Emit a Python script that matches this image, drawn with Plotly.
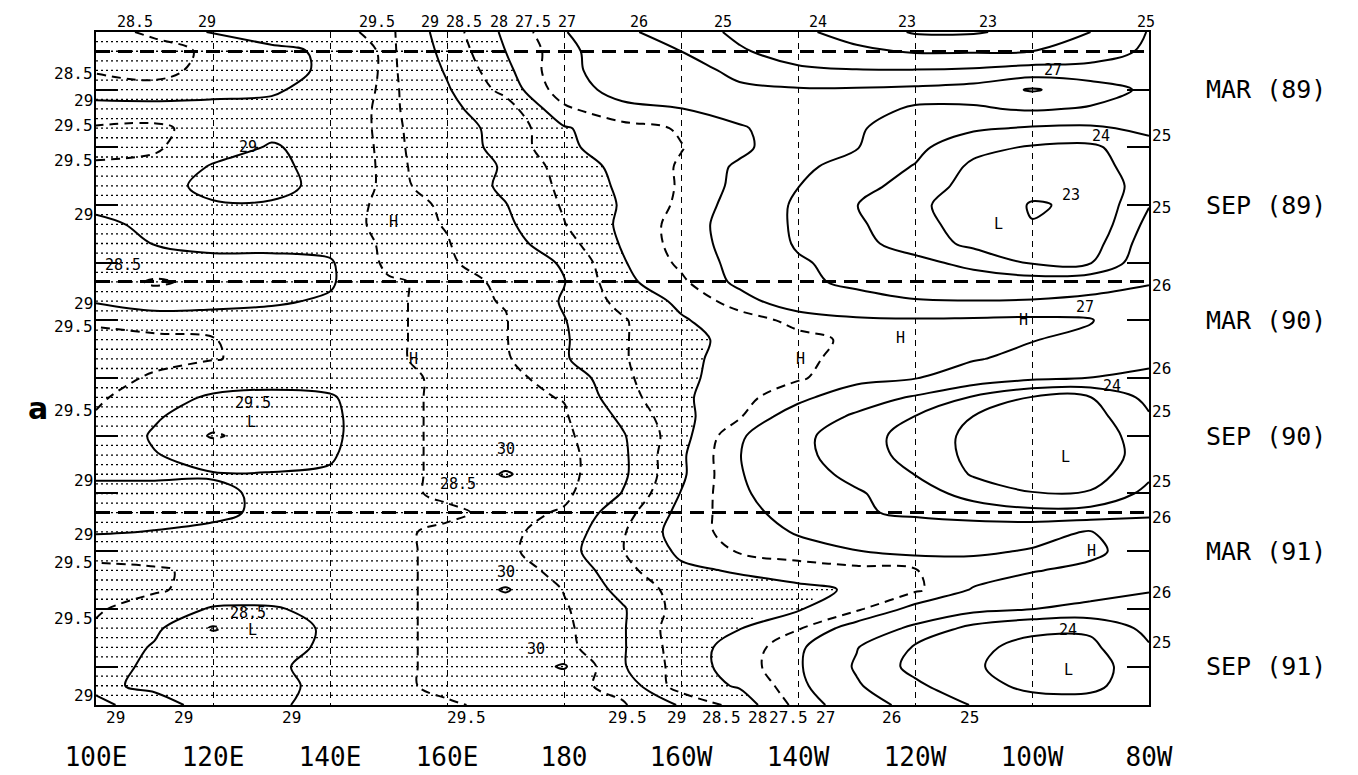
import numpy as np
import plotly.graph_objects as go

# ---------------- data ----------------
lons = [100, 110, 120, 130, 140, 150, 160, 170, 180, 190, 200, 210, 220, 230, 240, 250, 260, 270, 280]
lon_ticks = [100, 120, 140, 160, 180, 200, 220, 240, 260, 280]
lon_labels = ["100E", "120E", "140E", "160E", "180", "160W", "140W", "120W", "100W", "80W"]
# months counted from Jan 1989 = 0 (Dec 1988 .. Nov 1991)
months = list(range(-1, 35))
year_lines = [0, 12, 24]
month_ticks = list(range(2, 33, 3))
season_ticks = [2, 8, 14, 20, 26, 32]
season_labels = ["MAR (89)", "SEP (89)", "MAR (90)", "SEP (90)", "MAR (91)", "SEP (91)"]

# SST (deg C), rows = months, columns = lons
sst_1989 = [
    [28.30, 28.60, 29.05, 29.30, 29.40, 29.60, 28.75, 27.90, 27.05, 26.20, 25.50, 24.80, 24.20, 23.60, 22.90, 22.90, 23.30, 24.00, 25.05],
    [28.35, 28.30, 28.60, 28.85, 29.10, 29.60, 28.85, 28.00, 27.20, 26.50, 26.00, 25.10, 24.60, 24.20, 23.90, 23.90, 24.00, 24.40, 25.20],
    [28.45, 28.30, 28.70, 28.90, 29.05, 29.60, 28.95, 28.15, 27.10, 26.80, 26.50, 25.70, 25.15, 25.05, 25.05, 25.15, 25.40, 25.40, 25.40],
    [28.75, 28.70, 28.90, 28.95, 29.15, 29.60, 29.05, 28.35, 27.20, 26.85, 26.60, 26.20, 26.10, 26.10, 26.20, 26.40, 27.10, 26.50, 25.80],
    [29.20, 29.20, 29.10, 29.10, 29.25, 29.60, 29.10, 28.75, 27.60, 27.10, 27.02, 26.60, 26.35, 26.15, 25.95, 25.90, 26.10, 25.90, 25.70],
    [29.55, 29.60, 29.30, 29.15, 29.25, 29.60, 29.20, 28.85, 28.05, 27.70, 27.45, 27.10, 26.50, 26.10, 25.55, 25.15, 24.90, 24.85, 25.20],
    [29.60, 29.55, 29.25, 28.95, 29.20, 29.60, 29.25, 28.85, 28.10, 27.75, 27.52, 27.15, 26.55, 26.05, 25.25, 24.30, 23.90, 23.80, 24.70],
    [29.45, 29.40, 28.95, 28.90, 29.15, 29.60, 29.30, 28.95, 28.30, 27.85, 27.45, 26.90, 26.25, 25.55, 24.95, 23.80, 23.50, 23.55, 24.60],
    [29.30, 29.20, 28.85, 28.85, 29.15, 29.60, 29.35, 28.90, 28.40, 27.90, 27.45, 26.85, 26.02, 25.35, 24.60, 23.60, 23.20, 23.30, 24.50],
    [29.10, 29.10, 29.05, 29.05, 29.20, 29.65, 29.45, 29.02, 28.45, 27.95, 27.40, 26.75, 25.85, 25.02, 24.20, 23.50, 22.95, 23.10, 24.95],
    [28.90, 29.10, 29.15, 29.15, 29.25, 29.65, 29.48, 29.10, 28.52, 27.90, 27.30, 26.70, 25.85, 25.15, 24.35, 23.55, 23.02, 23.20, 25.30],
    [28.70, 29.02, 29.10, 29.10, 29.15, 29.60, 29.52, 29.20, 28.70, 27.95, 27.30, 26.75, 25.90, 25.30, 24.55, 23.75, 23.40, 23.52, 25.60],
    [28.60, 28.75, 28.90, 28.90, 28.95, 29.60, 29.55, 29.30, 28.95, 28.05, 27.40, 26.80, 26.10, 25.70, 25.30, 24.70, 23.90, 23.95, 25.80],
]
sst_1990 = [
    [28.75, 28.45, 28.60, 28.85, 28.95, 29.45, 29.60, 29.45, 29.02, 28.15, 27.60, 26.85, 26.15, 25.85, 25.60, 25.52, 25.52, 25.70, 25.95],
    [28.95, 28.70, 28.85, 28.95, 29.05, 29.45, 29.60, 29.48, 28.95, 28.35, 27.90, 27.25, 26.60, 26.25, 26.05, 26.02, 26.05, 26.15, 26.25],
    [29.45, 29.30, 29.20, 29.15, 29.25, 29.45, 29.60, 29.52, 29.02, 28.55, 28.05, 27.75, 27.35, 27.15, 27.10, 27.15, 27.20, 27.05, 26.60],
    [29.60, 29.60, 29.52, 29.35, 29.30, 29.45, 29.60, 29.52, 29.05, 28.55, 28.10, 27.90, 27.65, 27.40, 27.20, 27.10, 27.03, 26.80, 26.50],
    [29.65, 29.60, 29.52, 29.40, 29.35, 29.45, 29.60, 29.55, 29.05, 28.55, 28.10, 27.85, 27.60, 27.35, 27.15, 27.05, 26.80, 26.52, 26.20],
    [29.65, 29.45, 29.20, 29.15, 29.20, 29.35, 29.60, 29.60, 29.35, 28.60, 28.10, 27.80, 27.55, 27.25, 27.03, 26.60, 26.20, 25.98, 25.80],
    [29.60, 29.15, 28.95, 28.90, 28.95, 29.35, 29.60, 29.60, 29.48, 28.70, 28.10, 27.65, 27.20, 26.50, 25.90, 24.90, 23.95, 23.98, 25.30],
    [29.45, 29.05, 28.75, 28.70, 28.90, 29.35, 29.60, 29.65, 29.55, 28.90, 28.15, 27.55, 26.60, 25.85, 24.98, 23.98, 23.60, 23.60, 24.90],
    [29.35, 28.95, 28.45, 28.70, 28.90, 29.35, 29.60, 29.70, 29.60, 29.05, 28.20, 27.10, 26.25, 25.45, 24.60, 23.75, 23.35, 23.35, 24.60],
    [29.20, 29.02, 28.85, 28.85, 28.95, 29.35, 29.60, 29.75, 29.65, 29.10, 28.10, 27.02, 26.25, 25.50, 24.65, 23.75, 23.30, 23.30, 24.50],
    [29.05, 29.05, 29.02, 29.02, 29.05, 29.35, 29.60, 30.05, 29.65, 29.10, 28.10, 27.05, 26.40, 25.75, 24.98, 23.90, 23.45, 23.52, 24.80],
    [28.90, 28.90, 28.95, 29.05, 29.15, 29.35, 29.60, 29.70, 29.60, 28.98, 27.98, 27.10, 26.60, 26.10, 25.52, 24.60, 24.05, 24.10, 25.30],
]
sst_1991 = [
    [28.70, 28.80, 28.90, 29.10, 29.20, 29.40, 29.40, 29.65, 29.45, 28.70, 27.85, 27.20, 26.75, 26.10, 25.85, 25.60, 25.30, 25.40, 25.90],
    [28.95, 29.02, 29.10, 29.20, 29.25, 29.40, 29.60, 29.60, 29.30, 28.55, 27.75, 27.30, 26.95, 26.60, 26.52, 26.55, 26.75, 27.05, 26.30],
    [29.35, 29.30, 29.25, 29.25, 29.30, 29.40, 29.60, 29.60, 29.20, 28.52, 27.90, 27.45, 27.20, 27.02, 26.85, 26.90, 27.05, 27.20, 26.52],
    [29.60, 29.55, 29.40, 29.35, 29.35, 29.40, 29.60, 29.65, 29.40, 28.65, 28.10, 27.95, 27.80, 27.65, 27.52, 27.30, 27.05, 26.80, 26.40],
    [29.60, 29.55, 29.35, 29.30, 29.35, 29.40, 29.60, 30.05, 29.48, 28.85, 28.30, 28.20, 28.10, 27.95, 27.60, 26.95, 26.60, 26.30, 26.05],
    [29.55, 29.30, 28.95, 28.95, 29.15, 29.40, 29.60, 29.70, 29.55, 29.05, 28.30, 28.15, 28.05, 27.60, 26.80, 26.30, 26.02, 25.80, 25.70],
    [29.45, 29.10, 28.45, 28.85, 29.05, 29.40, 29.60, 29.65, 29.60, 29.05, 28.20, 28.02, 27.55, 26.70, 25.80, 24.70, 24.15, 24.15, 25.30],
    [29.35, 28.95, 28.80, 28.90, 29.05, 29.40, 29.60, 29.65, 29.65, 29.05, 28.25, 27.80, 27.15, 26.05, 24.90, 24.15, 23.80, 23.80, 24.90],
    [29.20, 28.90, 28.85, 28.95, 29.10, 29.40, 29.60, 29.70, 30.05, 29.05, 28.30, 27.75, 27.10, 25.90, 24.70, 24.10, 23.60, 23.60, 24.60],
    [29.05, 28.95, 28.90, 28.95, 29.05, 29.40, 29.60, 29.65, 29.65, 29.35, 28.25, 27.95, 27.20, 26.10, 25.20, 24.30, 23.80, 23.80, 24.52],
    [28.95, 29.10, 28.90, 28.95, 29.10, 29.25, 29.45, 29.60, 29.60, 29.55, 28.95, 28.30, 27.35, 26.60, 25.60, 24.95, 24.40, 24.35, 24.60],
]

solid_levels = [23, 24, 25, 26, 27, 28, 29, 30]
dashed_levels = [27.5, 28.5, 29.5]
shade_level = 28.0

# text marks inside the field: (label, lon, month)
inner_text = ["24", "23", "L", "27", "27", "H", "H", "H", "24", "L", "H", "24", "L",
              "29", "H", "28.5", "H", "29.5", "L", "30", "28.5", "30", "28.5", "L", "30"]
inner_lon = [271.8, 266.7, 254.2, 263.6, 269.0, 258.5, 220.5, 237.6, 273.6, 265.8, 270.1, 266.2, 266.2,
             126.0, 150.8, 104.6, 154.2, 126.8, 126.5, 170.0, 161.9, 170.0, 126.0, 126.8, 175.2]
inner_month = [4.4, 7.5, 9.0, 1.0, 13.3, 14.0, 16.0, 14.9, 17.4, 21.1, 26.0, 30.1, 32.2,
               5.0, 8.9, 11.1, 16.0, 18.3, 19.3, 20.7, 22.5, 27.1, 29.2, 30.1, 31.1]

# ---------------- derived ----------------
Z = np.array(sst_1989 + sst_1990 + sst_1991, dtype=float)
LON = np.array(lons, dtype=float)
MON = np.array(months, dtype=float)
all_levels = sorted(solid_levels + dashed_levels)

# pixel geometry of the plotting area (for label spacing only)
L_PX, R_PX, T_PX, B_PX = 88, 1141, 24, 697
px_per_lon = (R_PX - L_PX) / (LON[-1] - LON[0])
px_per_mon = (B_PX - T_PX) / (MON[-1] - MON[0])
CHAR_W = 9.6
LAB_SIZE = 16


def fmt(v):
    return ("%g" % v)


def crossings(vals, coords, merge_px, scale):
    raw = []
    for i in range(len(vals) - 1):
        a, b = vals[i], vals[i + 1]
        for lev in all_levels:
            if (a - lev) * (b - lev) < 0:
                t = (lev - a) / (b - a)
                raw.append((lev, coords[i] + t * (coords[i + 1] - coords[i])))
    raw.sort(key=lambda p: p[1])
    out = []
    for lev, c in raw:
        # a contour that only touches the edge gives two close crossings: label once
        if out and out[-1][0] == lev and (c - out[-1][1]) * scale < merge_px:
            out[-1] = (lev, 0.5 * (c + out[-1][1]))
        else:
            out.append((lev, c))
    return out


def spread(items, scale, size_fn):
    """pixel shifts so neighbouring labels do not overlap"""
    shifts = []
    last_end = -1e9
    for lev, c in items:
        p = c * scale
        half = size_fn(fmt(lev)) / 2.0
        start = p - half
        s = 0.0
        if start < last_end + 2:
            s = last_end + 2 - start
        shifts.append(s)
        last_end = p + s + half
    return shifts


# stipple rows (horizontal dotted lines where SST >= 28)
lon_f = np.arange(100.0, 280.0001, 0.25)
hx, hy = [], []
for yr in np.arange(-0.5, 34.0, 0.5):
    j = min(int(np.floor(yr - MON[0])), len(MON) - 2)
    t = (yr - MON[j]) / (MON[j + 1] - MON[j])
    row = Z[j] * (1 - t) + Z[j + 1] * t
    v = np.interp(lon_f, LON, row)
    m = v >= shade_level
    i = 0
    n = len(m)
    while i < n:
        if m[i]:
            k = i
            while k + 1 < n and m[k + 1]:
                k += 1
            hx += [lon_f[i], lon_f[k], None]
            hy += [yr, yr, None]
            i = k + 1
        else:
            i += 1

FONT = "DejaVu Sans Mono"
fig = go.Figure()

fig.add_trace(go.Scatter(x=hx, y=hy, mode="lines", hoverinfo="skip", showlegend=False,
                         line=dict(color="black", width=1.3, dash="2px,3px")))

fig.add_trace(go.Contour(x=lons, y=months, z=Z, autocontour=False,
                         contours=dict(start=23, end=30, size=1, coloring="none"),
                         line=dict(color="black", width=2, smoothing=1),
                         showscale=False, hoverinfo="skip"))
fig.add_trace(go.Contour(x=lons, y=months, z=Z, autocontour=False, yaxis="y2",
                         contours=dict(start=27.5, end=29.5, size=1, coloring="none"),
                         line=dict(color="black", width=2, dash="9px,6px", smoothing=1),
                         showscale=False, hoverinfo="skip"))

ann = []
lab_font = dict(family=FONT, size=LAB_SIZE, color="black")
top_font = dict(family=FONT, size=15, color="black")
in_font = dict(family=FONT, size=15, color="black")
wfn = lambda s: len(s) * CHAR_W
hfn = lambda s: 16.0

top = crossings(Z[0], lons, 40, px_per_lon)
for (lev, x), s in zip(top, spread(top, px_per_lon, wfn)):
    ann.append(dict(x=x, y=MON[0], xref="x", yref="y", text=fmt(lev), showarrow=False,
                    yanchor="bottom", yshift=0, xshift=s, font=top_font, borderpad=0))
bot = crossings(Z[-1], lons, 40, px_per_lon)
for (lev, x), s in zip(bot, spread(bot, px_per_lon, wfn)):
    ann.append(dict(x=x, y=MON[-1], xref="x", yref="y", text=fmt(lev), showarrow=False,
                    yanchor="top", yshift=-1, xshift=s, font=lab_font))
lft = crossings(Z[:, 0], months, 14, px_per_mon)
for (lev, y), s in zip(lft, spread(lft, px_per_mon, hfn)):
    ann.append(dict(x=LON[0], y=y, xref="x", yref="y", text=fmt(lev), showarrow=False,
                    xanchor="right", xshift=-1, yshift=-s, font=lab_font))
rgt = crossings(Z[:, -1], months, 14, px_per_mon)
for (lev, y), s in zip(rgt, spread(rgt, px_per_mon, hfn)):
    ann.append(dict(x=LON[-1], y=y, xref="x", yref="y", text=fmt(lev), showarrow=False,
                    xanchor="left", xshift=1, yshift=-s, font=lab_font))
for s, x, y in zip(inner_text, inner_lon, inner_month):
    ann.append(dict(x=x, y=y, xref="x", yref="y", text=s, showarrow=False, font=in_font))

ann.append(dict(x=-0.0665, y=0.441, xref="paper", yref="paper", text="<b>a</b>", showarrow=False,
                font=dict(family="DejaVu Sans", size=30, color="black")))

fig.update_layout(
    width=1358, height=775,
    margin=dict(l=88, r=217, t=24, b=78),
    paper_bgcolor="white", plot_bgcolor="white",
    showlegend=False,
    annotations=ann,
    xaxis=dict(range=[100, 280], tickmode="array", tickvals=lon_ticks, ticktext=lon_labels,
               showgrid=True, gridcolor="black", gridwidth=1.3, griddash="6px,5px",
               showline=True, linecolor="black", linewidth=2, mirror=True, ticks="",
               zeroline=False, ticklabelstandoff=28, automargin=False,
               tickfont=dict(family=FONT, size=26, color="black")),
    yaxis=dict(range=[34, -1], tickmode="array", tickvals=year_lines, showticklabels=False,
               showgrid=True, gridcolor="black", gridwidth=2.5, griddash="14px,8px",
               showline=True, linecolor="black", linewidth=2, mirror=True, ticks="",
               zeroline=False, automargin=False,
               minor=dict(tickmode="array", tickvals=month_ticks, ticks="inside", ticklen=22,
                          tickwidth=2, tickcolor="black", showgrid=False)),
    yaxis2=dict(range=[34, -1], overlaying="y", side="right", tickmode="array",
                tickvals=season_ticks, ticktext=season_labels, showgrid=False, zeroline=False,
                showline=False, ticks="", ticklabelstandoff=56, automargin=False,
                tickfont=dict(family=FONT, size=25, color="black"),
                minor=dict(tickmode="array", tickvals=month_ticks, ticks="inside", ticklen=22,
                           tickwidth=2, tickcolor="black", showgrid=False)),
)

fig.write_html("out.html")
